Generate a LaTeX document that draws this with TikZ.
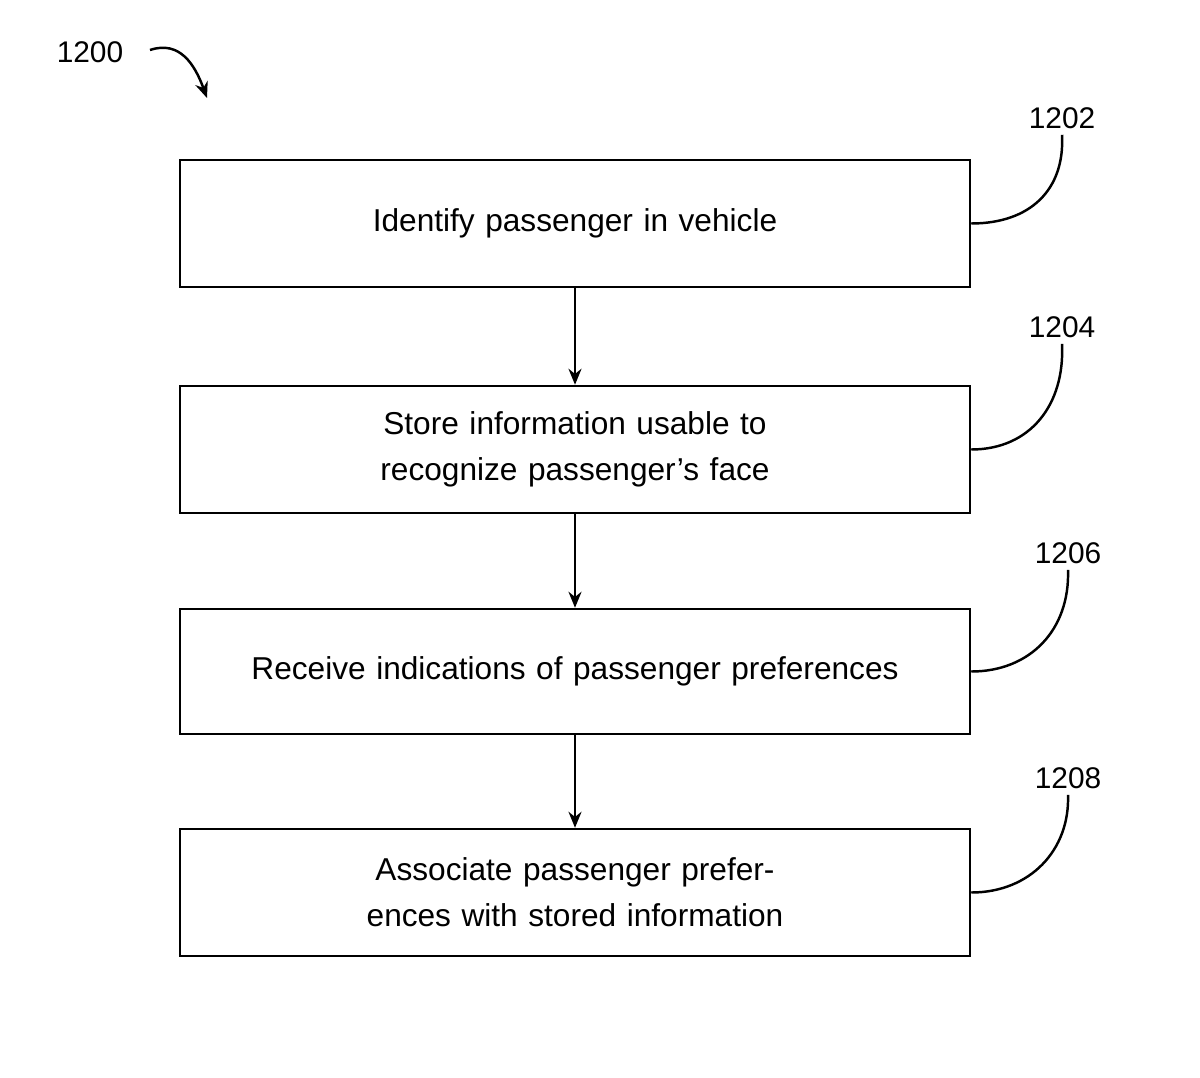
\documentclass[tikz,border=0pt]{standalone}
\usepackage{fontspec}
\setmainfont{Liberation Sans}
\usetikzlibrary{positioning}
\usetikzlibrary{arrows.meta}
\tikzstyle{arrow} = [line width=1.4pt,-{Stealth[length=3.2mm,width=2.6mm]}]
\tikzstyle{stepbox} = [draw, line width=1.4pt, minimum width=15.8cm, minimum height=2.54cm, text width=14.6cm, align=center, font=\fontsize{18}{26}\selectfont]
\tikzstyle{lead} = [line width=1.4pt]
\tikzstyle{ref} = [font=\fontsize{17}{20}\selectfont]

\begin{document}
\begin{tikzpicture}
  \useasboundingbox (0,0) rectangle (24,-21.54);

  % Steps
  \node[stepbox] (S1202) at (11.5,-4.47) {Identify passenger in vehicle};
  \node[stepbox] (S1204) at (11.5,-8.99) {Store information usable to recognize passenger's face};
  \node[stepbox, minimum height=2.5cm] (S1206) at (11.5,-13.43) {Receive indications of passenger preferences};
  \node[stepbox] (S1208) at (11.5,-17.85) {Associate passenger preferences with stored information};

  \draw[arrow] (S1202) -- (S1204);
  \draw[arrow] (S1204) -- (S1206);
  \draw[arrow] (S1206) -- (S1208);

  % Reference numerals
  \node[ref] (L1200) at (1.8,-1.04) {1200};
  \node[ref] (L1202) at (21.24,-2.36) {1202};
  \node[ref] (L1204) at (21.24,-6.54) {1204};
  \node[ref] (L1206) at (21.36,-11.06) {1206};
  \node[ref] (L1208) at (21.36,-15.56) {1208};

  \coordinate (T1200) at (4.14,-1.96);
  \draw[arrow] (3.0,-1.0) .. controls (3.6,-0.8) and (3.9,-1.3) .. (T1200);

  \draw[lead] (S1202.east) .. controls (20.6,-4.47) and (21.3,-3.8) .. (L1202.south);
  \draw[lead] (S1204.east) .. controls (20.6,-8.99) and (21.3,-8.1) .. (L1204.south);
  \draw[lead] (S1206.east) .. controls (20.6,-13.43) and (21.4,-12.6) .. (L1206.south);
  \draw[lead] (S1208.east) .. controls (20.6,-17.85) and (21.4,-17.0) .. (L1208.south);
\end{tikzpicture}
\end{document}
